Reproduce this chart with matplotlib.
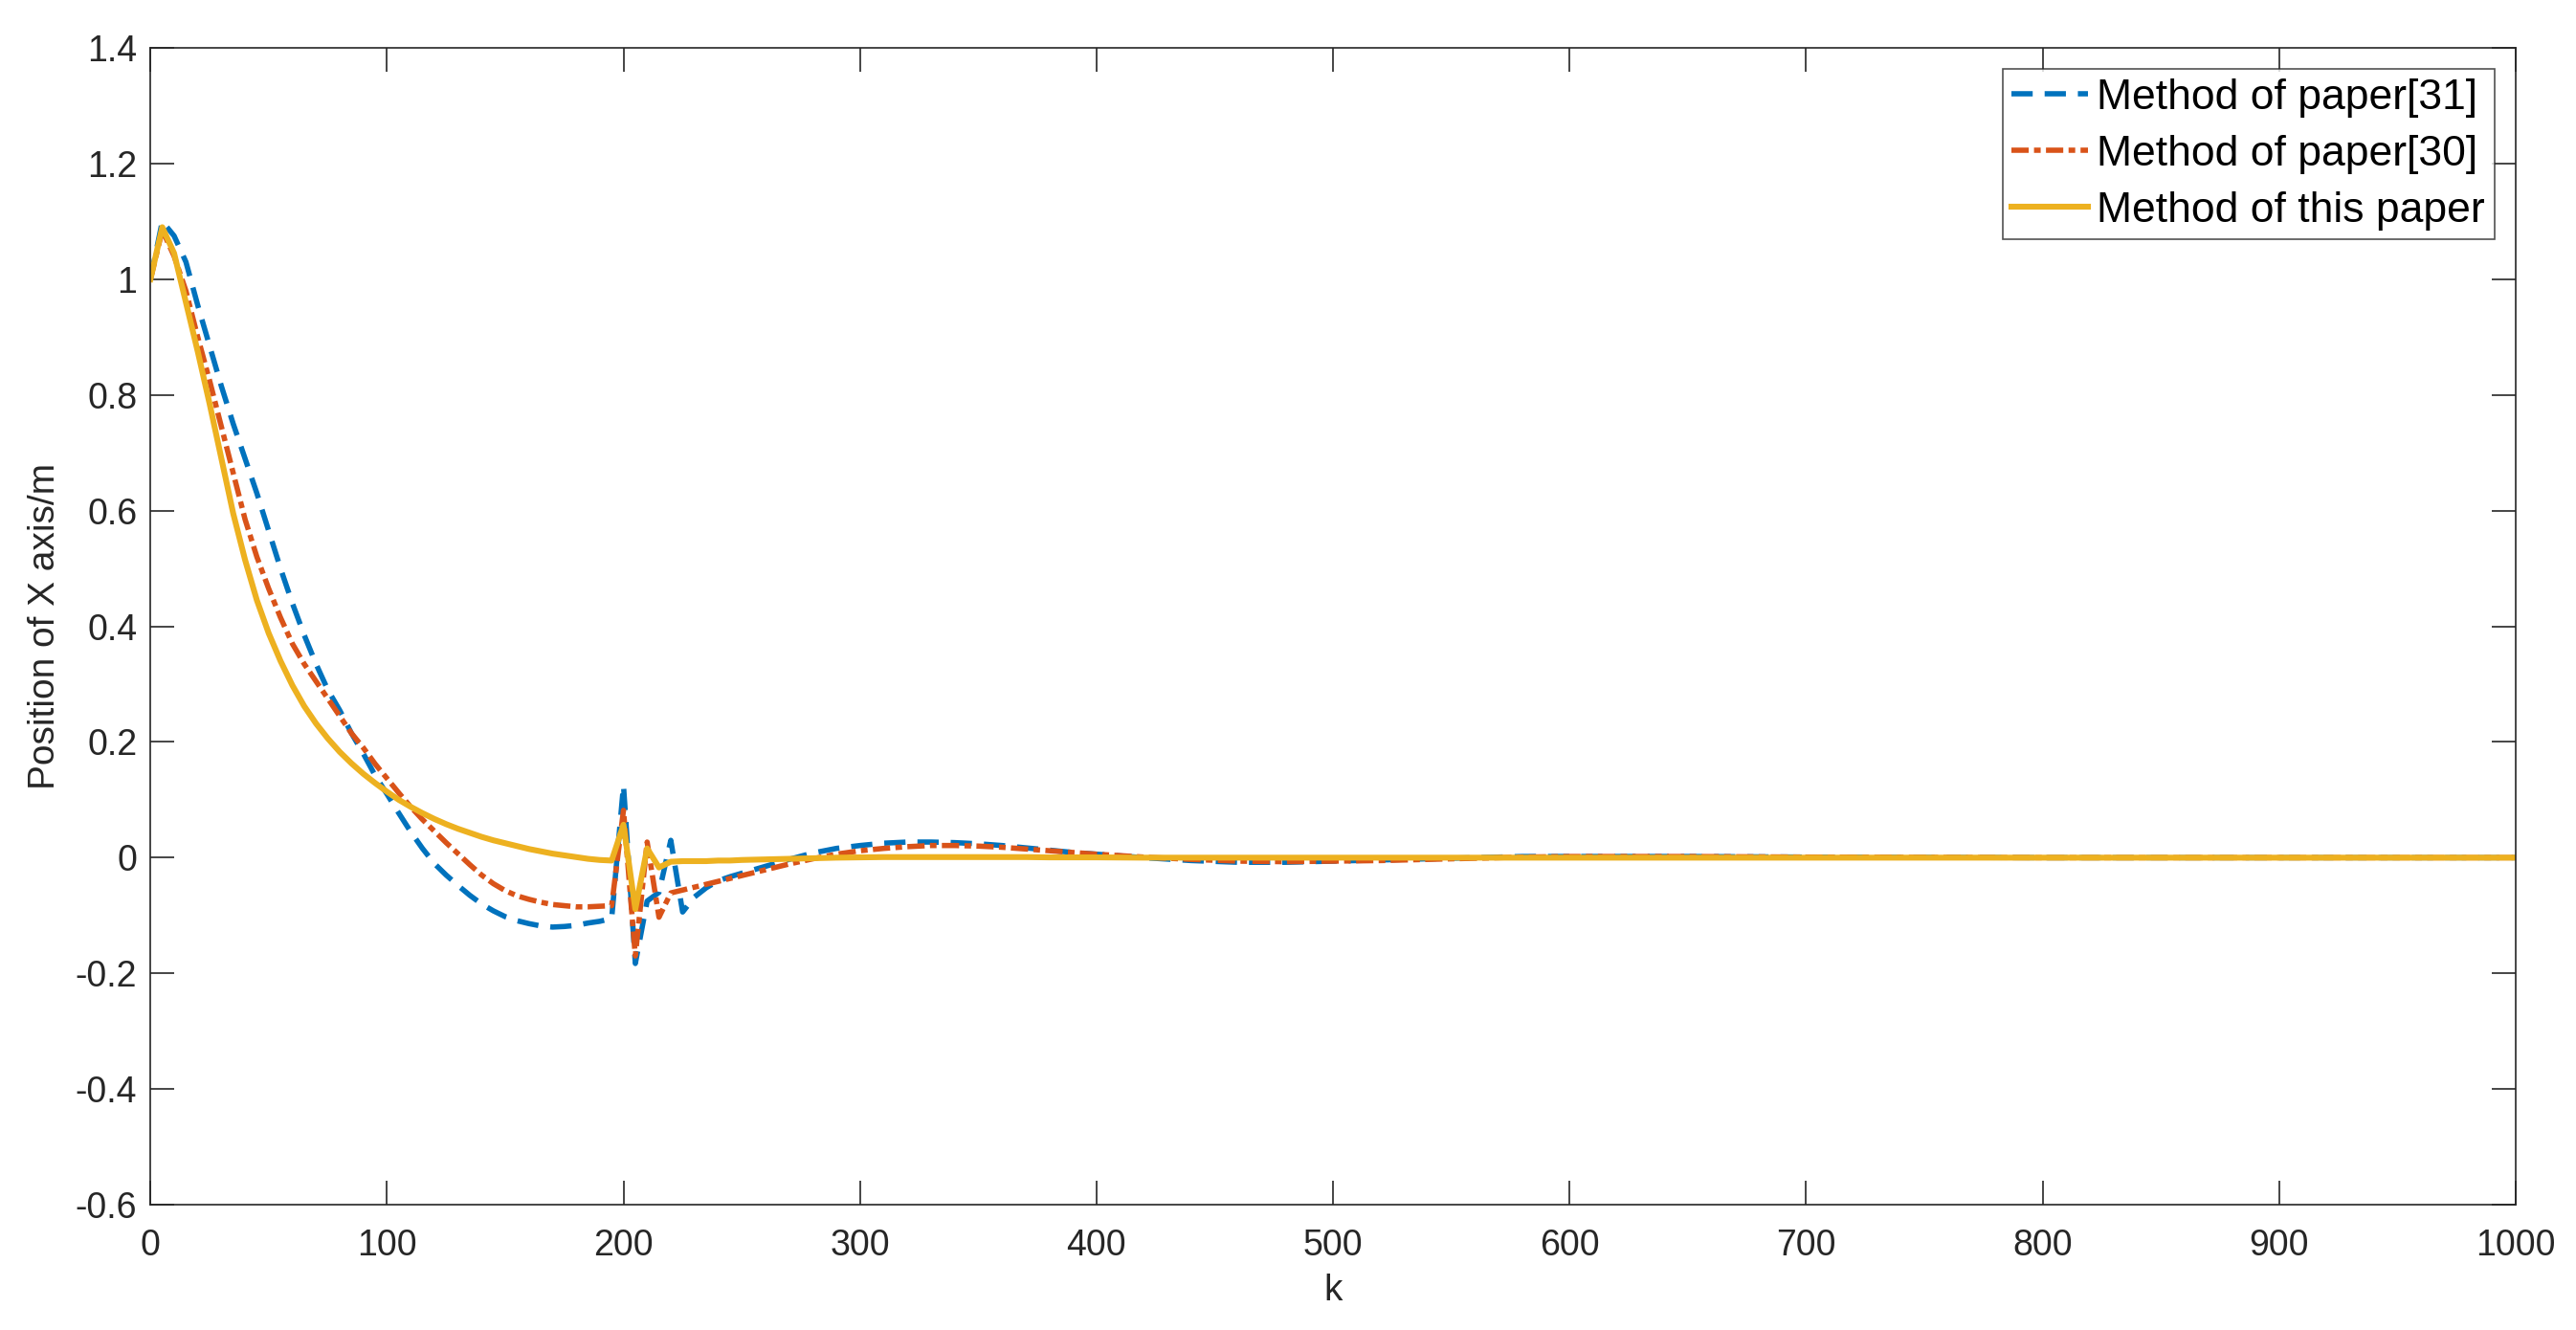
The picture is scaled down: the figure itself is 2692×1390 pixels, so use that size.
import numpy as np
import matplotlib
matplotlib.use("Agg")
from matplotlib import pyplot as plt

# sample steps: 5 up to 250, then coarser
k_early = list(range(0, 251, 5))
k_mid = list(range(260, 401, 10))
k_late = list(range(420, 601, 20))
k_tail = list(range(650, 1001, 50))
k_vals = k_early + k_mid + k_late + k_tail

# Method of paper[31]
paper31 = [
    1.0, 1.1, 1.075, 1.03, 0.955, 0.885, 0.815, 0.75, 0.69, 0.63,
    0.565, 0.5, 0.44, 0.385, 0.335, 0.29, 0.255, 0.215, 0.18, 0.142,
    0.11, 0.077, 0.045, 0.016, -0.01, -0.03, -0.048, -0.065, -0.08, -0.092,
    -0.102, -0.109, -0.114, -0.118, -0.12, -0.119, -0.117, -0.113, -0.11, -0.105,
    0.125, -0.183, -0.075, -0.06, 0.03, -0.094, -0.068, -0.052, -0.04, -0.033,
    -0.027,
    -0.015, -0.003, 0.008, 0.016, 0.021, 0.025, 0.027, 0.027, 0.026, 0.024,
    0.021, 0.017, 0.013, 0.009, 0.006,
    0.0, -0.005, -0.008, -0.008, -0.006, -0.004, -0.002, 0.0, 0.002, 0.002,
    0.002, 0.001, 0.0005, 0.0, 0.0, 0.0, 0.0, 0.0,
]

# Method of paper[30]
paper30 = [
    1.0, 1.085, 1.04, 0.98, 0.9, 0.825, 0.745, 0.665, 0.585, 0.52,
    0.465, 0.415, 0.37, 0.335, 0.305, 0.275, 0.245, 0.215, 0.19, 0.162,
    0.137, 0.112, 0.088, 0.066, 0.046, 0.026, 0.007, -0.012, -0.03, -0.045,
    -0.057, -0.066, -0.072, -0.077, -0.081, -0.083, -0.085, -0.085, -0.084, -0.083,
    0.082, -0.17, 0.027, -0.103, -0.061, -0.056, -0.051, -0.046, -0.041, -0.036,
    -0.031,
    -0.021, -0.011, -0.002, 0.006, 0.012, 0.016, 0.019, 0.021, 0.021, 0.02,
    0.018, 0.015, 0.012, 0.009, 0.006,
    0.001, -0.003, -0.006, -0.007, -0.006, -0.005, -0.003, -0.001, 0.001, 0.002,
    0.002, 0.001, 0.0005, 0.0, 0.0, 0.0, 0.0, 0.0,
]

# Method of this paper
this_paper = [
    1.0, 1.09, 1.045, 0.96, 0.875, 0.785, 0.69, 0.595, 0.515, 0.445,
    0.388, 0.34, 0.298, 0.262, 0.232, 0.206, 0.183, 0.163, 0.145, 0.129,
    0.114, 0.1, 0.088, 0.077, 0.067, 0.058, 0.05, 0.043, 0.036, 0.03,
    0.025, 0.02, 0.015, 0.011, 0.007, 0.004, 0.001, -0.002, -0.004, -0.005,
    0.057, -0.089, 0.016, -0.017, -0.007, -0.006, -0.006, -0.006, -0.005, -0.005,
    -0.004,
    -0.003, -0.002, -0.001, 0.0, 0.0005, 0.001, 0.001, 0.001, 0.001, 0.001,
    0.001, 0.001, 0.0005, 0.0005, 0.0005,
    0.0, 0.0, 0.0, 0.0, 0.0, 0.0, 0.0, 0.0, 0.0, 0.0,
    0.0, 0.0, 0.0, 0.0, 0.0, 0.0, 0.0, 0.0,
]

labels = ["Method of paper[31]", "Method of paper[30]", "Method of this paper"]
x_ticks = list(range(0, 1001, 100))
y_ticks = [-0.6, -0.4, -0.2, 0, 0.2, 0.4, 0.6, 0.8, 1, 1.2, 1.4]

plt.rcParams["font.family"] = ["Liberation Sans", "DejaVu Sans"]
plt.rcParams["lines.scale_dashes"] = False
dark = "#262626"

fig = plt.figure(figsize=(13.46, 6.95), dpi=200)
ax = fig.add_axes([0.0584, 0.0942, 0.9182, 0.8698])

ax.plot(k_vals, paper31, color="#0072BD", lw=2.0, dashes=(8, 4.5), label=labels[0])
ax.plot(k_vals, paper30, color="#D95319", lw=2.0, dashes=(6.5, 2.0, 2.5, 2.0), label=labels[1])
ax.plot(k_vals, this_paper, color="#EDB120", lw=2.2, label=labels[2])

ax.set_xlim(0, 1000)
ax.set_ylim(-0.6, 1.4)
ax.set_xticks(x_ticks)
ax.set_yticks(y_ticks)
ax.set_yticklabels(["%g" % v for v in y_ticks])
ax.tick_params(direction="in", length=9, width=0.6, colors=dark, labelsize=13.5,
               top=True, right=True)
ax.tick_params(axis="x", pad=9)
ax.tick_params(axis="y", pad=5)
for sp in ax.spines.values():
    sp.set_linewidth(0.6)
    sp.set_color(dark)

ax.set_xlabel("k", fontsize=14, color=dark, labelpad=4)
ax.set_ylabel("Position of X axis/m", fontsize=14, color=dark, labelpad=5)

leg = ax.legend(loc="upper right", fontsize=16, frameon=True, fancybox=False,
                borderpad=0.22, handletextpad=0.2, labelspacing=0.4,
                handlelength=1.8, borderaxespad=0.5)
leg.get_frame().set_edgecolor(dark)
leg.get_frame().set_linewidth(0.6)

fig.savefig("out.png", dpi=200)
